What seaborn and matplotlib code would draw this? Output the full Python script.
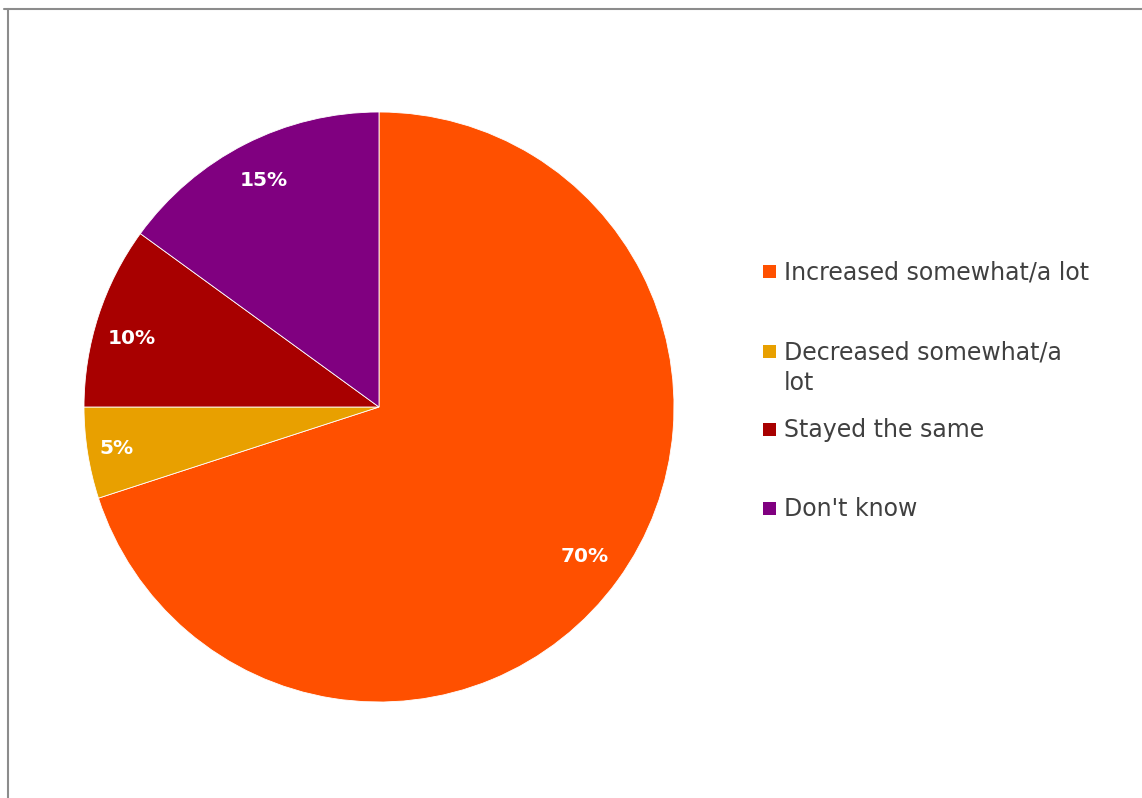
import matplotlib
matplotlib.use("Agg")
import numpy as np
import matplotlib.pyplot as plt
from matplotlib.patches import Rectangle
from matplotlib.lines import Line2D
import seaborn as sns

# Survey responses
categories = ["Increased somewhat/a lot", "Decreased somewhat/a lot",
              "Stayed the same", "Don't know"]
legend_lines = [["Increased somewhat/a lot"], ["Decreased somewhat/a", "lot"],
                ["Stayed the same"], ["Don't know"]]
shares = [70, 5, 10, 15]
colors = ["#FF5000", "#E8A000", "#A80000", "#800080"]

sns.set_theme(style="white")
plt.rcParams['font.family'] = ['DejaVu Sans']

W, H = 1142, 798
fig = plt.figure(figsize=(W / 100, H / 100), dpi=100)
fig.patch.set_facecolor("white")

# Pie area: centre (379, 407) px, radius 295 px
cx, cy, r = 379, 407, 295
ax = fig.add_axes([(cx - r) / W, (H - cy - r) / H, 2 * r / W, 2 * r / H])
wedges, texts, autotexts = ax.pie(
    shares, colors=colors, startangle=90, counterclock=False,
    autopct=lambda p: f"{p:.0f}%", pctdistance=0.87,
    wedgeprops=dict(linewidth=0.6, edgecolor="white"),
    textprops=dict(color="white", fontsize=14.5, fontweight="bold"),
)
# Data-label placement (radial distance and small angular nudge per slice)
label_dist = [0.86, 0.90, 0.87, 0.86]
label_nudge = [0, 0, 2.5, 0]
for w, t, d, nd in zip(wedges, autotexts, label_dist, label_nudge):
    ang = np.deg2rad((w.theta1 + w.theta2) / 2 + nd)
    t.set_position((d * np.cos(ang), d * np.sin(ang)))
ax.set_aspect("equal")
ax.set_xlim(-1, 1)
ax.set_ylim(-1, 1)
ax.axis("off")

# Legend entries drawn in figure pixel space
entry_y = [272, 352, 430, 509]
line_step = 31
for lines, col, y in zip(legend_lines, colors, entry_y):
    fig.add_artist(Rectangle((763 / W, (H - y - 6) / H), 13 / W, 13 / H,
                             transform=fig.transFigure, facecolor=col,
                             edgecolor="none"))
    for k, line in enumerate(lines):
        fig.text(784 / W, (H - y - k * line_step) / H, line,
                 transform=fig.transFigure, fontsize=17, color="#404040",
                 va="center", ha="left")

# Frame lines along the top and left
fig.add_artist(Line2D([4 / W, 1], [(H - 9) / H] * 2, transform=fig.transFigure,
                      color="#8c8c8c", linewidth=1.5))
fig.add_artist(Line2D([8 / W] * 2, [0, (H - 9) / H], transform=fig.transFigure,
                      color="#8c8c8c", linewidth=1.5))

fig.savefig("out.png", dpi=100, facecolor="white")
